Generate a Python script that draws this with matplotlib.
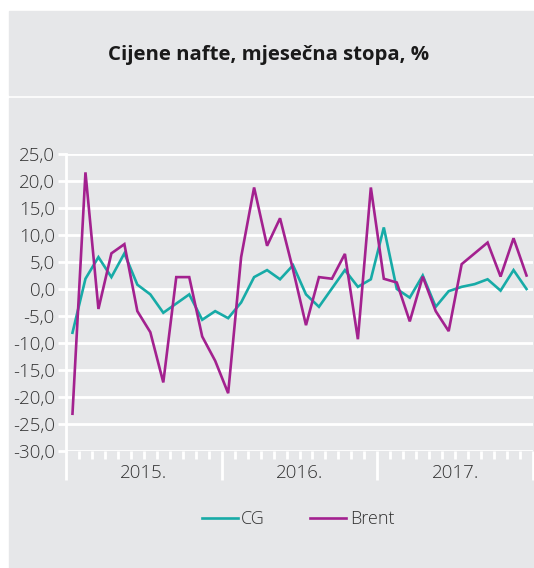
import matplotlib.pyplot as plt
from matplotlib.patches import Rectangle
from matplotlib.lines import Line2D
import matplotlib.transforms as mtransforms

plt.rcParams['font.family'] = ['Open Sans', 'DejaVu Sans']

years = ['2015.', '2016.', '2017.']
# monthly rate, Jan 2015 - Dec 2017
cg = [-8.1, 1.9, 5.9, 2.2, 6.6, 0.8, -1.0, -4.4, -2.7, -1.0, -5.7, -4.1,
      -5.4, -2.5, 2.2, 3.5, 1.8, 4.4, -1.0, -3.3, 0.1, 3.5, 0.4, 1.8,
      11.4, 0.0, -1.6, 2.5, -3.3, -0.4, 0.4, 0.9, 1.8, -0.3, 3.5, 0.0]
brent = [-23.1, 21.6, -3.7, 6.6, 8.3, -4.1, -8.0, -17.3, 2.2, 2.2, -8.8, -13.3,
         -19.3, 5.9, 18.8, 8.0, 13.1, 3.6, -6.7, 2.2, 1.9, 6.5, -9.3, 18.8,
         1.9, 1.2, -6.0, 2.3, -4.1, -7.8, 4.6, 6.6, 8.6, 2.3, 9.4, 2.5]

W, H = 534, 568
bg = '#e6e7e9'
c_cg = '#17aba7'
c_brent = '#a3218f'
txt = '#333333'

fig = plt.figure(figsize=(W / 100, H / 100), dpi=100)
fig.patch.set_facecolor('white')

# background panels
fig.patches.append(Rectangle((9 / W, 1 - 95 / H), (W - 9) / W, 84 / H,
                             transform=fig.transFigure, color=bg, zorder=-5))
fig.patches.append(Rectangle((9 / W, 0), (W - 9) / W, 1 - 97.5 / H,
                             transform=fig.transFigure, color=bg, zorder=-5))

fig.text(268.5 / W, 1 - 55 / H, 'Cijene nafte, mjesečna stopa, %',
         ha='center', va='center', fontsize=14.7, fontweight='bold', color='#1a1a1a')

x0, x1, ytop, ybot = 66, 533, 154, 451
ax = fig.add_axes([x0 / W, 1 - ybot / H, (x1 - x0) / W, (ybot - ytop) / H])
ax.set_zorder(2)
ax.set_facecolor(bg)
ax.patch.set_alpha(0)

n = len(cg)
xs = [i + 0.5 for i in range(n)]
ax.plot(xs, cg, color=c_cg, lw=1.9, zorder=3, solid_joinstyle='miter')
ax.plot(xs, brent, color=c_brent, lw=1.9, zorder=4, solid_joinstyle='miter')

ax.set_xlim(0, n)
ax.set_ylim(-30, 25)
ax.set_yticks(range(-30, 26, 5))
ax.set_yticklabels([f'{v:.1f}'.replace('.', ',') for v in range(-30, 26, 5)],
                   fontweight='light')
ax.yaxis.grid(True, color='white', lw=2)
ax.set_axisbelow(True)

for s in ['top', 'right', 'bottom']:
    ax.spines[s].set_visible(False)
ax.spines['left'].set_color('white')
ax.spines['left'].set_linewidth(2)

ax.tick_params(axis='y', colors='white', length=6, width=2, pad=2,
               labelcolor=txt, labelsize=13.5)
ax.set_xticks(range(0, n + 1, 12))
ax.set_xticklabels([])
ax.set_xticks(range(n + 1), minor=True)
ax.tick_params(axis='x', which='major', colors='white', length=21, width=2)
ax.tick_params(axis='x', which='minor', colors='white', length=6, width=2)

trans = mtransforms.blended_transform_factory(ax.transData, ax.transAxes)
for k, lab in enumerate(years):
    ax.text(12 * k + 6, -22 / (ybot - ytop), lab, transform=trans,
            ha='center', va='center', fontsize=13.5, color=txt, fontweight='light')

handles = [Line2D([], [], color=c_cg, lw=1.9), Line2D([], [], color=c_brent, lw=1.9)]
leg = fig.legend(handles, ['CG', 'Brent'], loc='center', bbox_to_anchor=(298 / W, 1 - 519 / H),
                 ncol=2, frameon=False, fontsize=13, handlelength=2.0,
                 handletextpad=0.2, columnspacing=2.5, labelcolor=txt)
for t in leg.get_texts():
    t.set_fontweight('light')

fig.savefig('out.png', dpi=100)
